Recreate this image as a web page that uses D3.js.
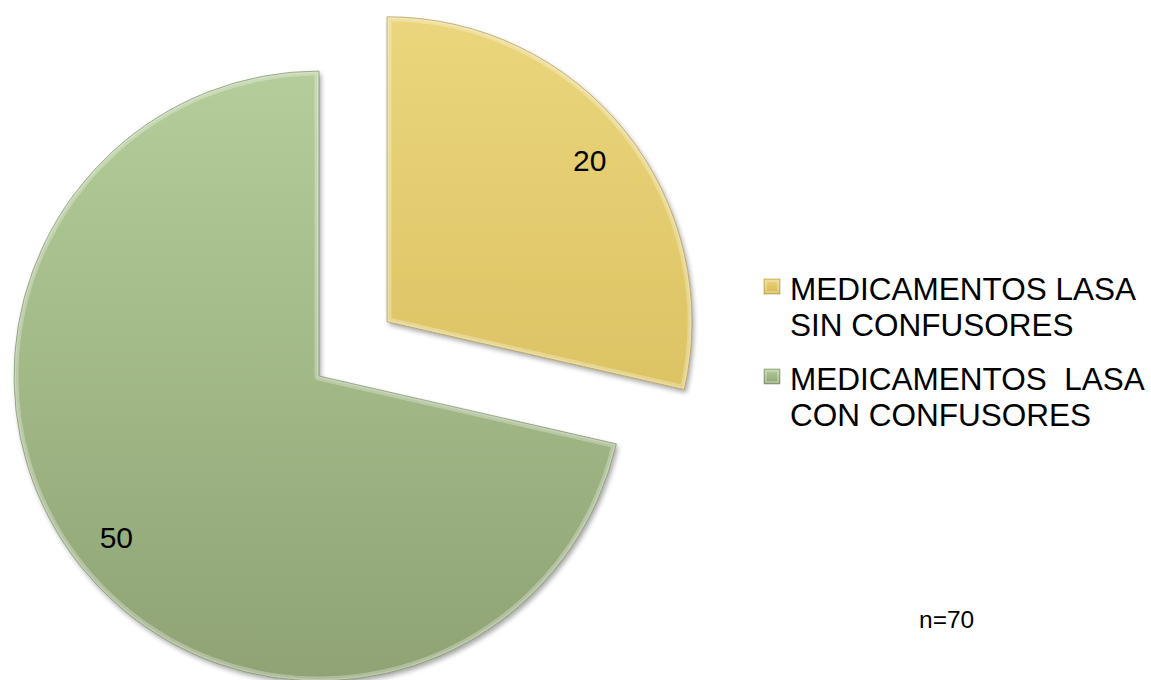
<!DOCTYPE html>
<html>
<head>
<meta charset="utf-8">
<script src="https://cdn.jsdelivr.net/npm/d3@7"></script>
<style>
  html, body { margin: 0; padding: 0; background: #ffffff; }
  svg { display: block; }
  text { font-family: "Liberation Sans", Arial, sans-serif; }
</style>
</head>
<body>
<svg id="chart" width="1151" height="680"></svg>
<script>
// ---- data ----
const categories = ["MEDICAMENTOS LASA SIN CONFUSORES", "MEDICAMENTOS  LASA CON CONFUSORES"];
const values = [20, 50];
const legendLines = [["MEDICAMENTOS LASA", "SIN CONFUSORES"], ["MEDICAMENTOS  LASA", "CON CONFUSORES"]];
const exploded = [true, false];
const note = "n=70";

// ---- styling ----
const colorsTop = ["#ebd67c", "#b4cd9a"];
const colorsBottom = ["#d3b754", "#8fa374"];
const edgeDark = ["#9c8535", "#6c7d57"];

const svg = d3.select("#chart");
const defs = svg.append("defs");

const cx = 319, cy = 376, radius = 305, explode = 87;

categories.forEach((c, i) => {
  const g = defs.append("linearGradient").attr("id", "grad" + i)
    .attr("gradientUnits", "userSpaceOnUse")
    .attr("x1", 0).attr("y1", -radius).attr("x2", 0).attr("y2", radius);
  g.append("stop").attr("offset", "0%").attr("stop-color", colorsTop[i]);
  g.append("stop").attr("offset", "100%").attr("stop-color", colorsBottom[i]);
  const lg = defs.append("linearGradient").attr("id", "lgrad" + i)
    .attr("x1", 0).attr("y1", 0).attr("x2", 0).attr("y2", 1);
  lg.append("stop").attr("offset", "0%").attr("stop-color", colorsTop[i]);
  lg.append("stop").attr("offset", "100%").attr("stop-color", colorsBottom[i]);
});

const shadow = defs.append("filter").attr("id", "shadow")
  .attr("x", "-10%").attr("y", "-10%").attr("width", "120%").attr("height", "120%");
shadow.append("feGaussianBlur").attr("in", "SourceAlpha").attr("stdDeviation", 2.5).attr("result", "b");
shadow.append("feOffset").attr("in", "b").attr("dx", 2).attr("dy", 3).attr("result", "o");
shadow.append("feComponentTransfer").attr("in", "o").attr("result", "s")
  .append("feFuncA").attr("type", "linear").attr("slope", 0.35);
const m = shadow.append("feMerge");
m.append("feMergeNode").attr("in", "s");
m.append("feMergeNode").attr("in", "SourceGraphic");

const pie = d3.pie().sort(null).value(d => d)(values);
const arc = d3.arc().innerRadius(0).outerRadius(radius);
const labelArc = d3.arc().innerRadius(radius * 0.85).outerRadius(radius * 0.85);

const slices = svg.append("g");
pie.forEach((p, i) => {
  const mid = (p.startAngle + p.endAngle) / 2;
  const off = exploded[i] ? explode : 0;
  const dx = Math.sin(mid) * off, dy = -Math.cos(mid) * off;
  const g = slices.append("g").attr("transform", `translate(${cx + dx},${cy + dy})`);
  const clipId = "clip" + i;
  defs.append("clipPath").attr("id", clipId).append("path").attr("d", arc(p));
  g.append("path").attr("d", arc(p))
    .attr("fill", `url(#grad${i})`)
    .attr("filter", "url(#shadow)");
  // inner bevel highlight
  g.append("path").attr("d", arc(p))
    .attr("fill", "none")
    .attr("stroke", "#ffffff").attr("stroke-opacity", 0.28).attr("stroke-width", 9)
    .attr("stroke-linejoin", "round")
    .attr("clip-path", `url(#${clipId})`);
  g.append("path").attr("d", arc(p))
    .attr("fill", "none")
    .attr("stroke", "#ffffff").attr("stroke-opacity", 0.2).attr("stroke-width", 4)
    .attr("clip-path", `url(#${clipId})`);
  g.append("path").attr("d", arc(p))
    .attr("fill", "none")
    .attr("stroke", edgeDark[i]).attr("stroke-opacity", 0.55).attr("stroke-width", 1);
  const [lx, ly] = labelArc.centroid(p);
  g.append("text").attr("x", lx).attr("y", ly)
    .attr("text-anchor", "middle").attr("dominant-baseline", "central")
    .attr("font-size", 30).attr("fill", "#000")
    .text(values[i]);
});

// ---- legend ----
const legend = svg.append("g").attr("transform", "translate(764,0)");
const entryBaseline = [300, 390];
categories.forEach((c, i) => {
  const base = entryBaseline[i];
  legend.append("rect").attr("x", 0).attr("y", base - 21).attr("width", 16).attr("height", 15)
    .attr("fill", `url(#lgrad${i})`).attr("stroke", edgeDark[i]).attr("stroke-opacity", 0.6).attr("stroke-width", 0.8);
  legend.append("rect").attr("x", 2).attr("y", base - 19).attr("width", 12).attr("height", 11)
    .attr("fill", "none").attr("stroke", "#fff").attr("stroke-opacity", 0.35).attr("stroke-width", 1.5);
  legendLines[i].forEach((line, j) => {
    legend.append("text").attr("x", 26).attr("y", base + j * 36)
      .attr("font-size", 31.5).attr("fill", "#000")
      .style("white-space", "pre").attr("xml:space", "preserve")
      .text(line);
  });
});

svg.append("text").attr("x", 919).attr("y", 628)
  .attr("font-size", 24.5).attr("fill", "#000").text(note);
</script>
</body>
</html>
